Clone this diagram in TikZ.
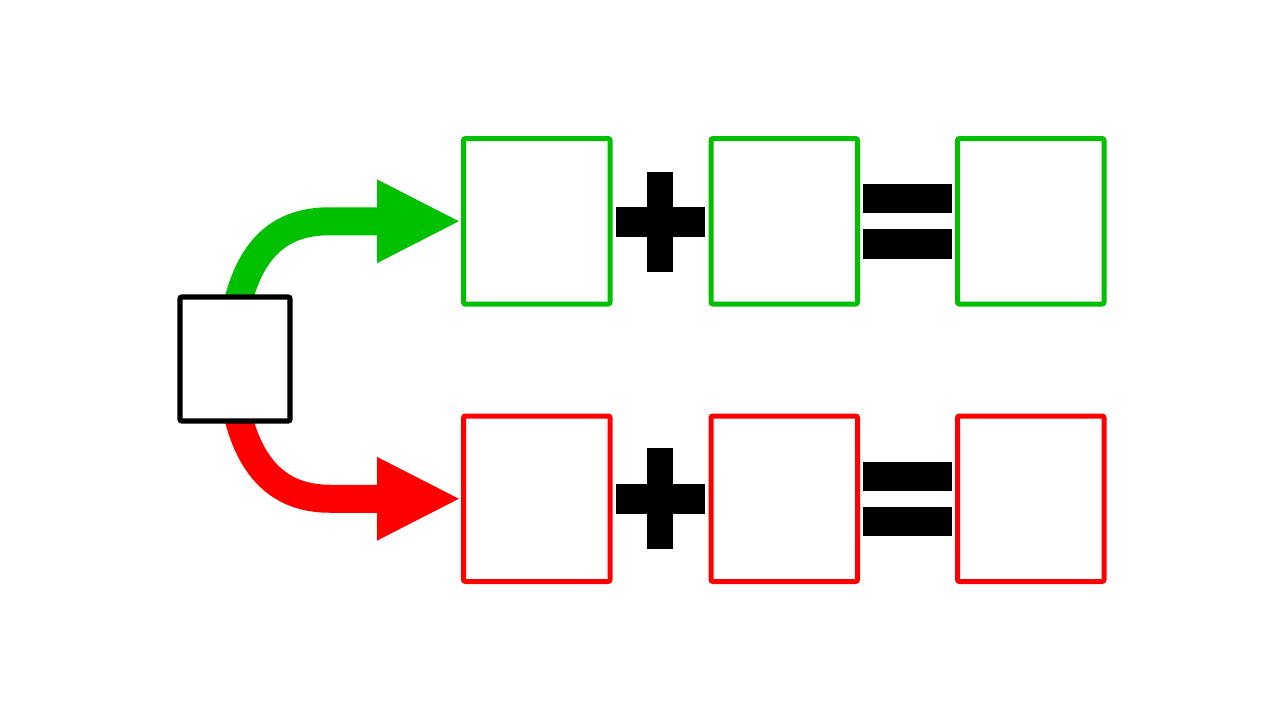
\documentclass[tikz,border=0pt]{standalone}
\usetikzlibrary{arrows.meta}
\definecolor{grn}{RGB}{0,192,0}
\definecolor{rd}{RGB}{255,0,0}
\begin{document}
\begin{tikzpicture}[x=1pt,y=-1pt,
  box/.style={draw,line width=5pt,rounded corners=2pt,fill=white,inner sep=0pt,minimum width=146.5pt,minimum height=165.5pt},
  bar/.style={fill=black,inner sep=0pt},
  bigarrow/.style={line width=28pt,-{Triangle[length=84pt,width=77pt]}}]
\useasboundingbox[fill=white] (0,0) rectangle (1280,720);
% boxes
\node[box,draw=grn] (g1) at (536.75,221.25) {};
\node[box,draw=grn] (g2) at (784.25,221.25) {};
\node[box,draw=grn] (g3) at (1030.75,221.25) {};
\node[box,draw=rd] (r1) at (536.75,498.75) {};
\node[box,draw=rd] (r2) at (784.25,498.75) {};
\node[box,draw=rd] (r3) at (1030.75,498.75) {};
% plus signs
\node[bar,minimum width=89.3pt,minimum height=30pt] (gph) at (660.3,221.7) {};
\node[bar,minimum width=26.6pt,minimum height=100pt] (gpv) at (660,221.7) {};
\node[bar,minimum width=89.3pt,minimum height=29.7pt] (rph) at (660.3,499.2) {};
\node[bar,minimum width=26.6pt,minimum height=101pt] (rpv) at (660,498.8) {};
% equals signs
\node[bar,minimum width=89pt,minimum height=29.3pt] (ge1) at (907.8,198.7) {};
\node[bar,minimum width=89pt,minimum height=30pt] (ge2) at (907.8,244) {};
\node[bar,minimum width=89pt,minimum height=29.3pt] (re1) at (907.8,476.3) {};
\node[bar,minimum width=89pt,minimum height=29.3pt] (re2) at (907.8,521.3) {};
% arrows
\coordinate (gs) at (238,302);
\coordinate (rs) at (238,416);
\draw[bigarrow,grn] (gs) .. controls (254,238) and (290,221.25) .. (330,221.25) -- (g1.west);
\draw[bigarrow,rd] (rs) .. controls (254,480) and (290,498.75) .. (330,498.75) -- (r1.west);
% source box
\node[draw,line width=5.3pt,rounded corners=2pt,fill=white,inner sep=0pt,minimum width=110pt,minimum height=124pt] (src) at (235,359) {};
\end{tikzpicture}
\end{document}
